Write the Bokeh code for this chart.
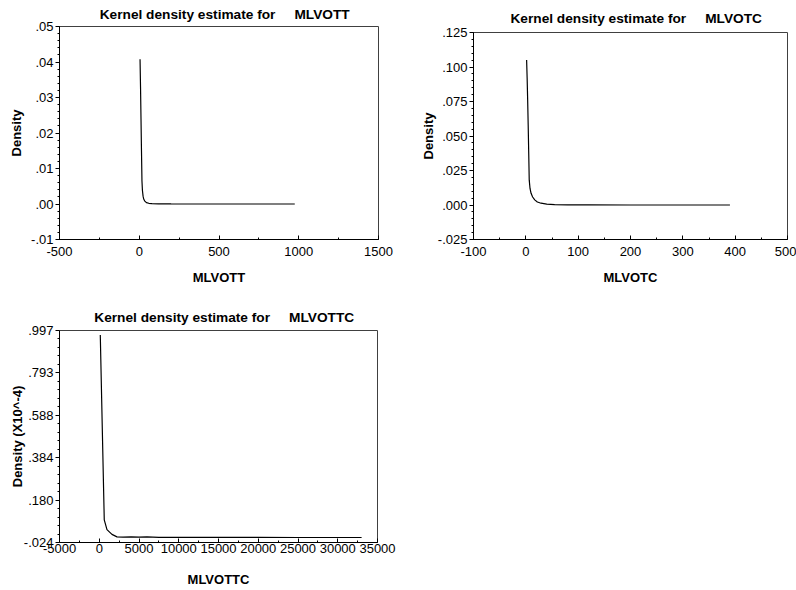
from bokeh.plotting import figure
from bokeh.layouts import column, row
from bokeh.models import (Range1d, SingleIntervalTicker, FixedTicker,
                          CustomJSTickFormatter)
from bokeh.embed import file_html
from bokeh.resources import INLINE
import numpy as np

FONT = "Liberation Sans"

# ---- data ----
var1 = "MLVOTT"
x1 = [5, 8, 11, 14, 17, 20, 24, 28, 35, 45, 60, 80, 120, 200, 400, 700, 975]
y1 = [0.0408, 0.0330, 0.0240, 0.0150, 0.0065, 0.0038, 0.0022, 0.0014, 0.0008,
      0.0004, 0.0002, 0.0001, 0.00004, 0.00001, 0.0, 0.0, 0.0]

var2 = "MLVOTC"
x2 = [1.5, 2.5, 3.5, 4.5, 5.5, 6.5, 8, 10, 13, 17, 22, 29, 40, 55, 80, 120, 200, 300, 390]
y2 = [0.105, 0.092, 0.076, 0.058, 0.038, 0.018, 0.0120, 0.0085, 0.0058, 0.0037,
      0.0022, 0.0013, 0.0006, 0.0003, 0.0001, 0.00003, 0.0, 0.0, 0.0]

var3 = "MLVOTTC"
x3 = [130, 630, 970, 1600, 2230, 3000, 4000, 5000, 6000, 7500, 10000, 15000,
      20000, 25000, 30000, 33000]
y3 = [0.975, 0.085, 0.038, 0.015, 0.003, 0.002, 0.003, 0.002, 0.003, 0.001,
      0.001, 0.0005, 0.0003, 0.0002, 0.0001, 0.0]
y3_ticks = [-0.024, 0.180, 0.384, 0.588, 0.793, 0.997]

NB = "\u00a0"


def fmt(d):
    return CustomJSTickFormatter(args=dict(d=d), code="""
        let t = Math.abs(tick) < 1e-9 ? 0 : tick;
        const s = t.toFixed(d);
        return s.replace(/^(-?)0\\./, "$1.");
    """)


def make(var, ylabel, xr, yr, x, y, w, h, bl, br, bt, bb, xtick, yticker, yd,
         ylstand, xls, xas, tstand):
    p = figure(width=w, height=h, output_backend="svg", toolbar_location=None,
               x_range=Range1d(*xr), y_range=Range1d(*yr),
               min_border_left=bl, min_border_right=br,
               min_border_top=bt, min_border_bottom=bb)
    p.frame_align = False
    p.title.text = NB * 3 + "Kernel density estimate for" + NB * 5 + var
    p.title.align = "center"
    p.title.text_font = FONT
    p.title.text_font_size = "13.7px"
    p.title.text_font_style = "bold"
    p.title.text_color = "black"
    p.title.text_line_height = 0.8
    p.title.standoff = tstand
    p.xgrid.visible = False
    p.ygrid.visible = False
    p.outline_line_color = "#404040"
    p.outline_line_width = 1
    p.background_fill_color = "white"
    p.border_fill_color = "white"

    p.line(x, y, line_color="black", line_width=1.2)

    xa = p.xaxis[0]
    xa.ticker = SingleIntervalTicker(interval=xtick, num_minor_ticks=2)
    xa.formatter = CustomJSTickFormatter(code="return tick.toFixed(0);")
    xa.axis_label = var
    xa.major_tick_in = 4
    xa.major_tick_out = 0
    xa.minor_tick_in = 2
    xa.minor_tick_out = 0
    xa.major_label_standoff = xls
    xa.axis_label_standoff = xas

    ya = p.yaxis[0]
    ya.ticker = yticker
    ya.formatter = fmt(yd)
    ya.axis_label = ylabel
    ya.major_tick_in = 0
    ya.major_tick_out = 4
    ya.minor_tick_in = 0
    ya.minor_tick_out = 2
    ya.major_label_standoff = 2
    ya.axis_label_standoff = ylstand

    for a in (xa, ya):
        a.axis_line_color = "black"
        a.major_tick_line_color = "black"
        a.minor_tick_line_color = "black"
        a.major_label_text_font = FONT
        a.major_label_text_font_size = "13px"
        a.major_label_text_color = "black"
        a.axis_label_text_font = FONT
        a.axis_label_text_font_size = "13px"
        a.axis_label_text_font_style = "bold"
        a.axis_label_text_color = "black"
    return p


p1 = make(var1, "Density", (-500, 1500), (-0.01, 0.05), x1, y1,
          400, 290, 59, 22, 25, 51, 500,
          SingleIntervalTicker(interval=0.01, num_minor_ticks=5), 2, 4, 7, 11, 9)

p2 = make(var2, "Density", (-100, 500), (-0.025, 0.125), x2, y2,
          396, 290, 73, 9, 32, 51, 100,
          SingleIntervalTicker(interval=0.025, num_minor_ticks=5), 3, -1, 7, 11, 13)

minor3 = []
for a, b in zip(y3_ticks[:-1], y3_ticks[1:]):
    minor3 += list(np.linspace(a, b, 6)[1:-1])
p3 = make(var3, "Density (X10^-4)", (-5000, 35000), (y3_ticks[0], y3_ticks[-1]), x3, y3,
          400, 300, 59, 23, 40, 48, 5000,
          FixedTicker(ticks=y3_ticks, minor_ticks=minor3), 3, -4, 1, 16, 11)

layout = column(row(p1, p2), p3)
open("out.html", "w").write(file_html(layout, INLINE))
